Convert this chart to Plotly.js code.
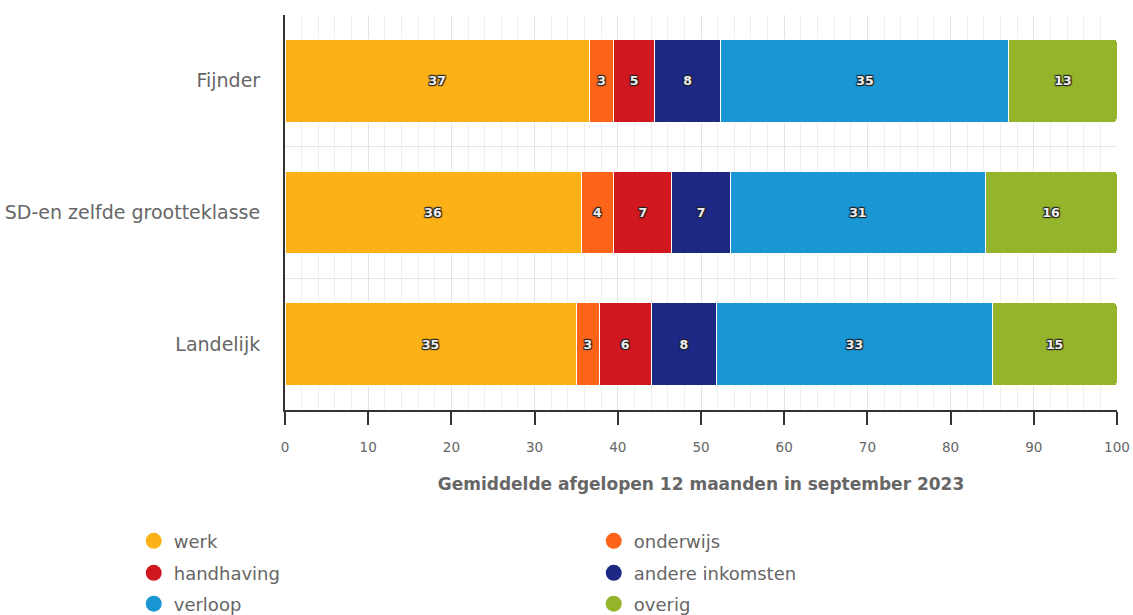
<!DOCTYPE html>
<html>
<head>
<meta charset="utf-8">
<script src="https://cdn.plot.ly/plotly-3.0.1.min.js"></script>
<style>html,body{margin:0;padding:0;background:#fff;}#chart{width:1133px;height:615px;}</style>
</head>
<body>
<div id="chart"></div>
<script>
const categories = ["Fijnder", "SD-en zelfde grootteklasse", "Landelijk"];
const seriesNames = ["werk", "onderwijs", "handhaving", "andere inkomsten", "verloop", "overig"];
const werk = [36.6, 35.6, 35.0];
const onderwijs = [2.9, 3.9, 2.8];
const handhaving = [4.9, 7.0, 6.2];
const andereInkomsten = [8.0, 7.0, 7.9];
const verloop = [34.6, 30.7, 33.1];
const overig = [13.0, 15.8, 15.0];
const colors = ["#FCB117", "#FE6419", "#D1171F", "#1D2885", "#1A96D4", "#93B42B"];
const xTitle = "Gemiddelde afgelopen 12 maanden in september 2023";

const seriesValues = [werk, onderwijs, handhaving, andereInkomsten, verloop, overig];
const legendIds = ["legend", "legend", "legend2", "legend2", "legend3", "legend3"];
const FONT = "DejaVu Sans, Arial, sans-serif";
const GREY = "#666666";

const traces = [];
seriesValues.forEach((vals, i) => {
  traces.push({
    type: "bar",
    orientation: "h",
    name: seriesNames[i],
    y: categories,
    x: vals,
    marker: {color: colors[i], line: {color: "#ffffff", width: 1}},
    texttemplate: "%{x:.0f}",
    textposition: "inside",
    insidetextanchor: "middle",
    textangle: 0,
    constraintext: "none",
    textfont: {
      family: FONT, size: 12.5, weight: "bold", color: "#eeeeee",
      shadow: "1px 1px 1px #222, -1px -1px 1px #222, 1px -1px 1px #222, -1px 1px 1px #222"
    },
    hoverinfo: "x+name",
    showlegend: false
  });
});
seriesValues.forEach((vals, i) => {
  traces.push({
    type: "scatter",
    mode: "markers",
    name: seriesNames[i],
    x: [null], y: [null],
    marker: {color: colors[i], size: 18, symbol: "circle"},
    legend: legendIds[i],
    showlegend: true,
    hoverinfo: "skip"
  });
});

function leg(yc) {
  return {
    orientation: "h",
    traceorder: "normal",
    x: -0.1818, xanchor: "left",
    y: yc, yanchor: "middle",
    entrywidth: 415, entrywidthmode: "pixels",
    font: {family: FONT, size: 18, color: GREY},
    bgcolor: "rgba(0,0,0,0)",
    itemclick: false, itemdoubleclick: false
  };
}

const layout = {
  width: 1133, height: 615,
  margin: {l: 285, r: 16, t: 15, b: 205, autoexpand: false},
  paper_bgcolor: "#ffffff", plot_bgcolor: "#ffffff",
  barmode: "stack",
  bargap: 0.37,
  barcornerradius: 3,
  font: {family: FONT, color: GREY},
  xaxis: {
    range: [0, 100],
    dtick: 10, tick0: 0,
    showgrid: true, gridcolor: "#e3e3e3", gridwidth: 1,
    minor: {dtick: 2, showgrid: true, gridcolor: "#eeeeee", gridwidth: 1},
    showline: true, linecolor: "#333333", linewidth: 2,
    ticks: "outside", ticklen: 13, tickcolor: "#333333", tickwidth: 2,
    tickfont: {family: FONT, size: 13.5, color: GREY},
    ticklabelstandoff: 11,
    zeroline: false,
    fixedrange: true,
    title: {text: xTitle, font: {family: FONT, size: 17, color: GREY, weight: "bold"}, standoff: 24}
  },
  yaxis: {
    type: "category",
    categoryorder: "array",
    categoryarray: categories.slice().reverse(),
    tickson: "boundaries",
    showgrid: true, gridcolor: "#e6e6e6", gridwidth: 1,
    showline: true, linecolor: "#333333", linewidth: 2,
    ticks: "",
    ticklabelstandoff: 19,
    tickfont: {family: FONT, size: 19, color: GREY},
    fixedrange: true
  },
  legend: leg(-0.332),
  legend2: leg(-0.413),
  legend3: leg(-0.491),
  hovermode: "closest"
};

Plotly.newPlot("chart", traces, layout, {displayModeBar: false, responsive: false});
</script>
</body>
</html>
